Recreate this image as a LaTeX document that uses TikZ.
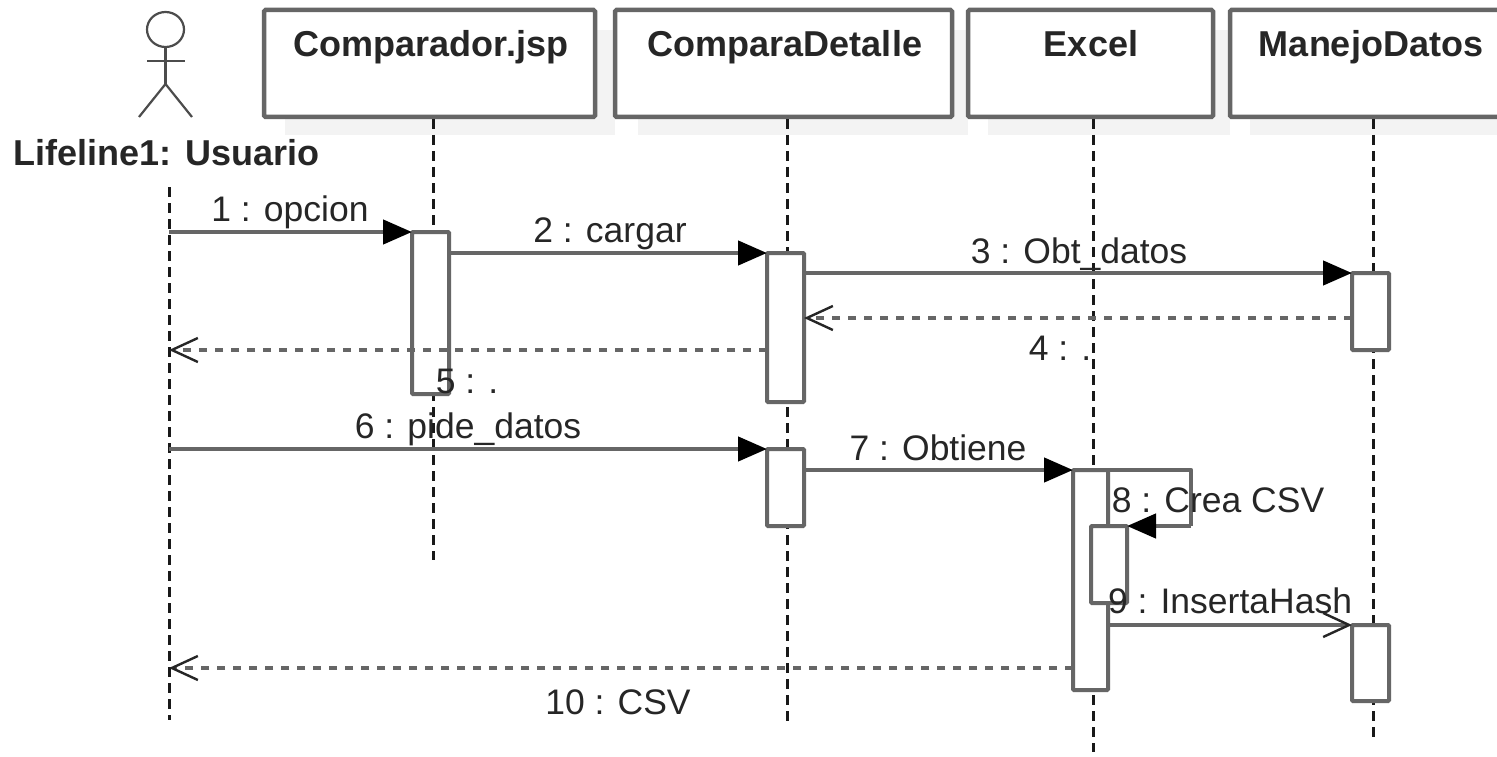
\documentclass[tikz,border=0pt]{standalone}
\usepackage{fontspec}
\setmainfont{Liberation Sans}
\usetikzlibrary{arrows.meta,calc,shapes.geometric}
\definecolor{ln}{HTML}{666666}
\definecolor{tx}{HTML}{262626}
\definecolor{shd}{HTML}{F3F3F3}
\tikzset{
 obj/.style={draw=ln,line width=4.5pt,fill=white,rounded corners=1.5pt,anchor=north west,inner sep=0pt,outer sep=0pt,text=tx},
 objlabel/.style={text=tx,font=\fontsize{36}{38}\selectfont\bfseries,inner sep=0pt,anchor=base},
 shadowbar/.style={fill=shd,draw=none},
 life/.style={draw=black!90,line width=3pt,dash pattern=on 10pt off 6pt},
 act/.style={draw=ln,line width=4pt,fill=white,rounded corners=1pt,anchor=north west,inner sep=0pt,outer sep=0pt},
 msg/.style={draw=ln,line width=4.5pt,-{Triangle[length=29pt,width=24pt,color=black,fill=black]}},
 open/.style={draw=ln,line width=4.5pt,-{Straight Barb[length=26pt,width=24pt,color=black!85,line width=2.4pt]}},
 ret/.style={draw=ln,line width=4.5pt,dash pattern=on 8pt off 8pt,-{Straight Barb[length=26pt,width=24pt,color=black!85,line width=2.4pt,sep=0pt]}},
 mlabel/.style={text=tx,font=\fontsize{35.5}{38}\selectfont,inner sep=0pt,anchor=base},
 actor/.style={draw=black!70,line width=2.2pt},
}
\newcommand{\actbox}[5]{\node[act,minimum width=#4pt,minimum height=#5pt] (#1) at (#2,#3) {};}
\begin{document}
\begin{tikzpicture}[x=1pt,y=-1pt]
\useasboundingbox (0,0) rectangle (1497,757);
\fill[white] (0,0) rectangle (1497,757);
% shadows
\fill[shadowbar] (285,30) rectangle (615,135);
\fill[shadowbar] (638,30) rectangle (968,135);
\fill[shadowbar] (988,30) rectangle (1230,135);
\fill[shadowbar] (1250,30) rectangle (1497,135);
% objects
\node[obj,minimum width=331pt,minimum height=107pt] (o1) at (264,10) {};
\node[obj,minimum width=337pt,minimum height=107pt] (o2) at (615,10) {};
\node[obj,minimum width=245pt,minimum height=107pt] (o3) at (968,10) {};
\node[obj,minimum width=300pt,minimum height=107pt] (o4) at (1230,10) {};
\node[objlabel] (t1) at (431,57) {Comparador.jsp};
\node[objlabel] (t2) at (785,57) {ComparaDetalle};
\node[objlabel] (t3) at (1091,57) {Excel};
\node[objlabel] (t4) at (1371,57) {ManejoDatos};
% actor
\node[draw=black!70,line width=2.2pt,ellipse,minimum width=37pt,minimum height=35pt,inner sep=0pt,outer sep=0pt] (head) at (165.5,29.5) {};
\coordinate (hip) at (165.5,84);
\coordinate (armL) at (147,61);
\coordinate (armR) at (185,61);
\coordinate (legL) at (139,117);
\coordinate (legR) at (192,117);
\draw[actor] (head.south) -- (hip);
\draw[actor] (armL) -- (armR);
\draw[actor] (legL) -- (hip) -- (legR);
\node[objlabel] (actorname) at (166.5,165) {Lifeline1: Usuario};
% lifelines
\coordinate (l0a) at (169,187); \coordinate (l0b) at (169,720);
\coordinate (l1b) at (433,560);
\coordinate (l2b) at (787,725);
\coordinate (l3b) at (1093,752);
\coordinate (l4b) at (1373,742);
\draw[life] (l0a) -- (l0b);
\draw[life] (433,119) -- (l1b);
\draw[life] (787,119) -- (l2b);
\draw[life] (1093,119) -- (l3b);
\draw[life] (1373,119) -- (l4b);
% activations
\actbox{a1}{412}{232}{37}{162}
\actbox{a2}{767}{253}{37}{149}
\actbox{a3}{1352}{273}{37}{77}
\actbox{a4}{767}{449}{37}{77}
\actbox{a5}{1073}{470}{35}{220}
\actbox{a6}{1091}{526}{36}{77}
\actbox{a7}{1352}{625}{37}{76}
% message rows
\coordinate (r4) at (0,318);
\coordinate (r5) at (0,350);
\coordinate (r10) at (0,668);
\coordinate (c8a) at (1191,470);
\coordinate (c8b) at (1191,526);
% messages
\draw[msg] (l0a |- a1.north west) -- (a1.north west);
\draw[msg] (a1.east |- a2.north west) -- (a2.north west);
\draw[msg] (a2.east |- a3.north west) -- (a3.north west);
\draw[ret] (a3.west |- r4) -- (a2.east |- r4);
\draw[ret] (a2.west |- r5) -- (l0a |- r5);
\draw[msg] (l0a |- a4.north west) -- (a4.north west);
\draw[msg] (a4.east |- a5.north west) -- (a5.north west);
\draw[draw=ln,line width=4.5pt,line join=round] (a5.east |- c8a) -- (c8a) -- (c8b);
\draw[msg] (c8b) -- (a6.north east);
\draw[open] (a5.east |- a7.north west) -- (a7.north west);
\draw[ret] (a5.west |- r10) -- (l0a |- r10);
% labels
\node[mlabel] (m1) at (290,221) {1 : opcion};
\node[mlabel] (m2) at (610,242) {2 : cargar};
\node[mlabel] (m3) at (1079,263) {3 : Obt\_datos};
\node[mlabel] (m4) at (1060,360) {4 : .};
\node[mlabel] (m5) at (467,393) {5 : .};
\node[mlabel] (m6) at (468,438) {6 : pide\_datos};
\node[mlabel] (m7) at (938,460) {7 : Obtiene};
\node[mlabel] (m8) at (1218,512) {8 : Crea CSV};
\node[mlabel] (m9) at (1230,613) {9 : InsertaHash};
\node[mlabel] (m10) at (618,714) {10 : CSV};
\end{tikzpicture}
\end{document}
